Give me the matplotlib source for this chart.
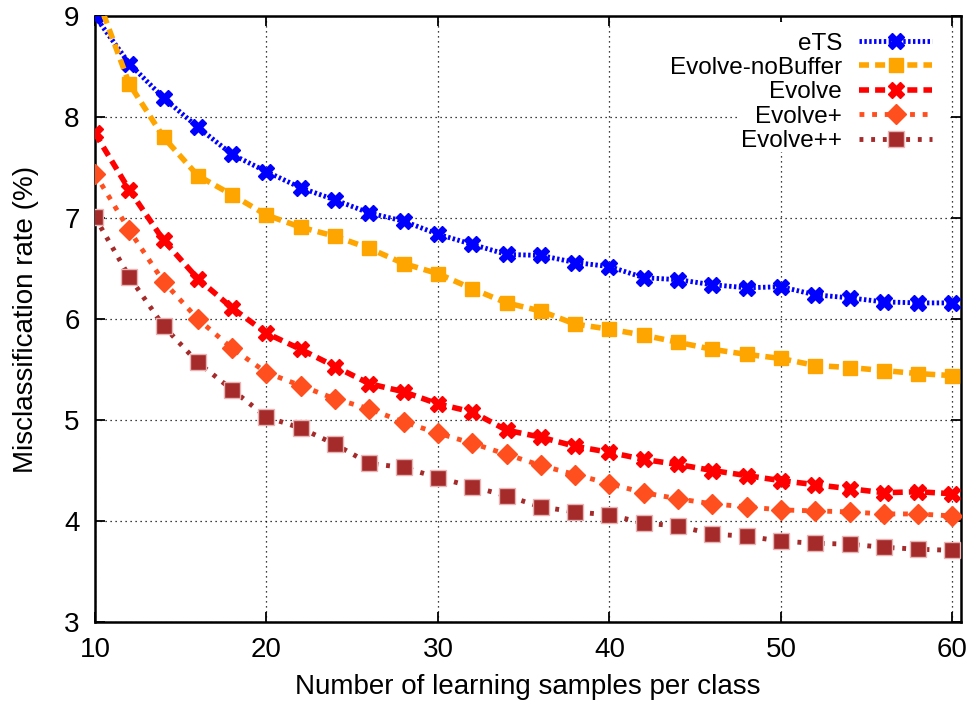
import numpy as np
import matplotlib
matplotlib.use("Agg")
import matplotlib.pyplot as plt
from matplotlib.patches import Rectangle

plt.rcParams["font.family"] = ["Liberation Sans", "DejaVu Sans"]

# learning samples per class
n_samples = [10, 12, 14, 16, 18, 20, 22, 24, 26, 28, 30, 32, 34, 36, 38, 40,
             42, 44, 46, 48, 50, 52, 54, 56, 58, 60]

# misclassification rate (%)
ets = [9.00, 8.53, 8.19, 7.90, 7.63, 7.46, 7.30, 7.18, 7.05, 6.97, 6.84, 6.74, 6.64,
       6.63, 6.56, 6.52, 6.41, 6.39, 6.34, 6.31, 6.32, 6.24, 6.21, 6.17, 6.16, 6.16]
evolve_nobuf = [9.25, 8.33, 7.80, 7.42, 7.23, 7.03, 6.91, 6.82, 6.70, 6.55, 6.45, 6.30, 6.16,
                6.08, 5.95, 5.90, 5.84, 5.77, 5.70, 5.65, 5.61, 5.54, 5.52, 5.49, 5.46, 5.44]
evolve = [7.84, 7.28, 6.78, 6.40, 6.11, 5.86, 5.70, 5.53, 5.36, 5.28, 5.16, 5.08, 4.90,
          4.83, 4.74, 4.68, 4.61, 4.56, 4.50, 4.45, 4.40, 4.36, 4.32, 4.28, 4.29, 4.27]
evolve_p = [7.44, 6.88, 6.37, 6.00, 5.71, 5.47, 5.34, 5.21, 5.11, 4.98, 4.87, 4.77, 4.66,
            4.55, 4.46, 4.37, 4.28, 4.22, 4.17, 4.14, 4.11, 4.10, 4.09, 4.07, 4.07, 4.05]
evolve_pp = [7.01, 6.42, 5.93, 5.57, 5.30, 5.03, 4.92, 4.76, 4.57, 4.53, 4.43, 4.34, 4.25,
             4.14, 4.09, 4.06, 3.98, 3.95, 3.87, 3.85, 3.80, 3.78, 3.77, 3.74, 3.72, 3.71]

series = [
    ("eTS", ets, "#0000ff", "X", 12, 3.5, (0, (0.5, 0.5)), "#0000ff"),
    ("Evolve-noBuffer", evolve_nobuf, "#ffa500", "s", 10, 4.0, (0, (1.8, 1.1)), "#ffa500"),
    ("Evolve", evolve, "#ff0000", "X", 12, 4.0, (0, (1.8, 1.1)), "#ff0000"),
    ("Evolve+", evolve_p, "#ff4f1f", "D", 10, 3.5, (0, (1.0, 1.6)), "#ff4f1f"),
    ("Evolve++", evolve_pp, "#a52a2a", "s", 11, 3.5, (0, (0.8, 1.6)), "#e8b4b4"),
]

fig = plt.figure(figsize=(9.77, 7.02), dpi=100)
ax = fig.add_axes([0.0972, 0.114, 0.8864, 0.863])

for name, vals, col, mk, ms, lw, ls, mec in series:
    ax.plot(n_samples, vals, color=col, lw=lw, linestyle=ls, marker=mk, ms=ms,
            mfc=col, mec=mec, mew=1.0, label=name, zorder=3)

ax.set_xlim(10, 60.5)
ax.set_ylim(3, 9)
ax.set_xticks([10, 20, 30, 40, 50, 60])
ax.set_yticks([3, 4, 5, 6, 7, 8, 9])
ax.grid(True, color="black", lw=0.9, linestyle=(0, (1, 3)))
ax.set_axisbelow(True)
for s in ax.spines.values():
    s.set_linewidth(1.8)
ax.tick_params(direction="in", length=7, width=1.3, top=True, right=True,
               labelsize=20, pad=11)
ax.set_xlabel("Number of learning samples per class", fontsize=20, labelpad=8)
ax.set_ylabel("Misclassification rate (%)", fontsize=20, labelpad=18)

# white key background over the grid, narrower than the key text block
ax.add_patch(Rectangle((0.745, 0.776), 0.242, 0.214, transform=ax.transAxes,
                       facecolor="white", edgecolor="none", zorder=1))

leg = ax.legend(loc="upper right", bbox_to_anchor=(0.975, 0.985), borderaxespad=0,
                fontsize=17.5, markerfirst=False, frameon=False,
                handlelength=3.0, handletextpad=0.7, labelspacing=0.1, borderpad=0.3)
# right-align the entry texts so they line up against the samples
for col in leg._legend_handle_box.get_children():
    col.align = "right"

fig.savefig("out.png", dpi=100)
